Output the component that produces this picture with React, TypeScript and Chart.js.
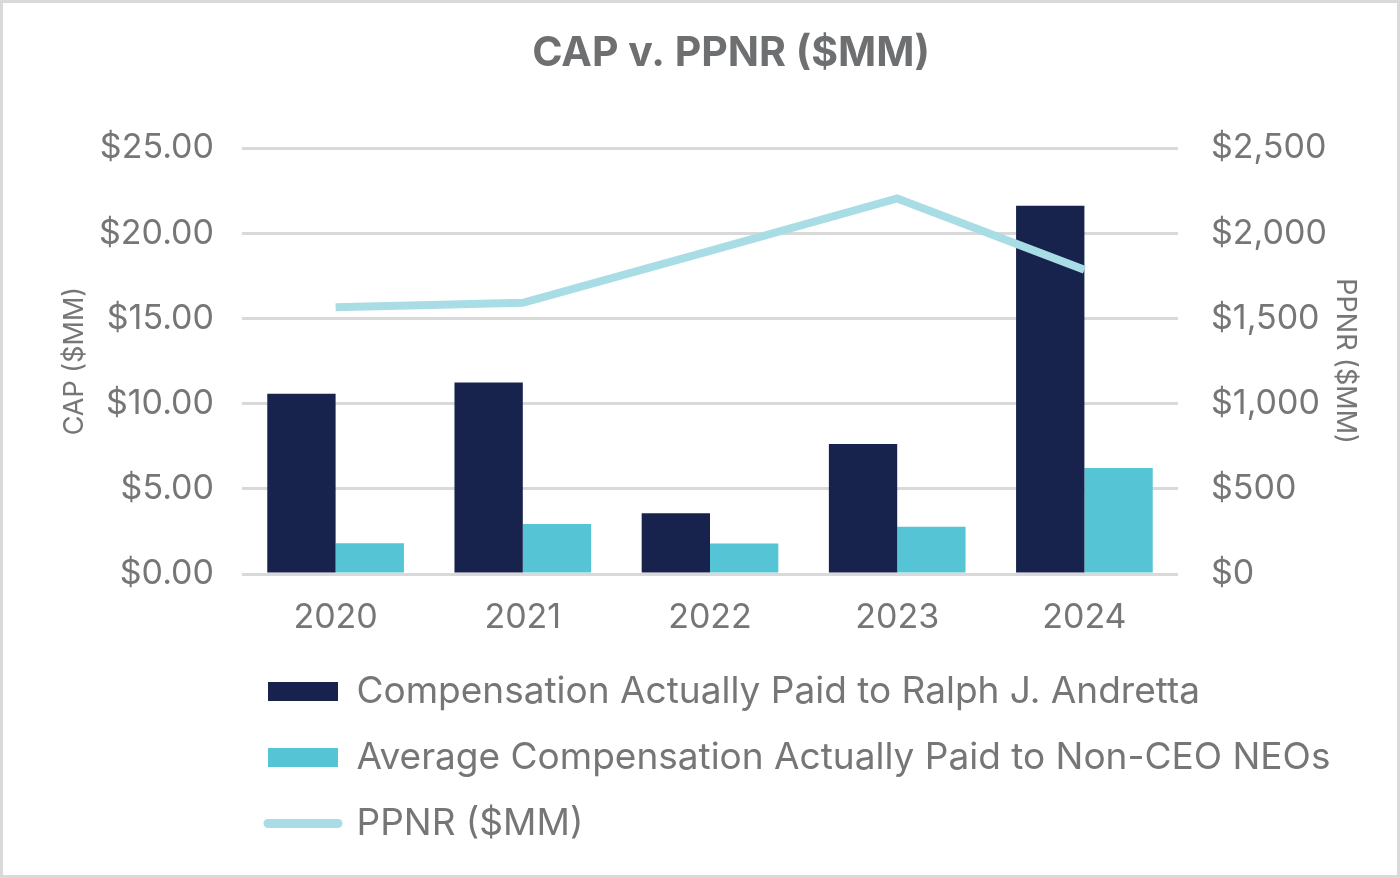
import React, { useEffect, useRef } from 'react';
import { Chart, registerables } from 'chart.js';

Chart.register(...registerables);

// ---- data ----
const years = ['2020', '2021', '2022', '2023', '2024'];
const ceoCap = [10.59, 11.24, 3.57, 7.64, 21.62];
const neoCap = [1.81, 2.93, 1.79, 2.78, 6.22];
const ppnr = [1566, 1592, 1897, 2205, 1786];
const seriesLabels = [
  'Compensation Actually Paid to Ralph J. Andretta',
  'Average Compensation Actually Paid to Non-CEO NEOs',
  'PPNR ($MM)',
];
const titleText = 'CAP v. PPNR ($MM)';
const leftAxisTitle = 'CAP ($MM)';
const rightAxisTitle = 'PPNR ($MM)';

const FONT = 'Inter, "Noto Sans", sans-serif';
const TEXT = '#767676';
const GRID = '#d9d9d9';

const framePlugin = {
  id: 'frame',
  beforeDraw(chart: any) {
    const { ctx, width, height } = chart;
    ctx.save();
    ctx.fillStyle = '#ffffff';
    ctx.fillRect(0, 0, width, height);
    ctx.strokeStyle = '#d9d9d9';
    ctx.lineWidth = 3;
    ctx.strokeRect(1.5, 1.5, width - 3, height - 3);
    ctx.restore();
  },
};

// nudges the title and the legend block sideways to match the reference layout
const blockShift = {
  id: 'blockShift',
  afterLayout(chart: any) {
    const lg = chart.legend;
    if (lg) {
      lg.left -= 3;
      lg.right = chart.width;
    }
    const tb = chart.titleBlock;
    if (tb) {
      tb.left += 31;
      tb.right += 31;
    }
  },
};

export default function App() {
  const ref = useRef<HTMLCanvasElement | null>(null);

  useEffect(() => {
    if (!ref.current) return;
    const chart = new Chart(ref.current, {
      type: 'bar',
      data: {
        labels: years,
        datasets: [
          {
            type: 'bar',
            label: seriesLabels[0],
            data: ceoCap,
            backgroundColor: '#17234d',
            borderWidth: 0,
            yAxisID: 'y',
            order: 1,
            categoryPercentage: 0.73,
            barPercentage: 1.0,
          },
          {
            type: 'bar',
            label: seriesLabels[1],
            data: neoCap,
            backgroundColor: '#55c4d5',
            borderWidth: 0,
            yAxisID: 'y',
            order: 1,
            categoryPercentage: 0.73,
            barPercentage: 1.0,
          },
          {
            type: 'line',
            label: seriesLabels[2],
            data: ppnr,
            borderColor: '#a9dde6',
            backgroundColor: '#a9dde6',
            borderWidth: 8,
            borderCapStyle: 'butt',
            borderJoinStyle: 'miter',
            pointRadius: 0,
            pointHoverRadius: 0,
            tension: 0,
            yAxisID: 'y1',
            order: 0,
          } as any,
        ],
      },
      options: {
        animation: false,
        responsive: false,
        layout: { padding: { left: 0, right: 0, top: 0, bottom: 26 } },
        plugins: {
          title: {
            display: true,
            text: titleText,
            color: '#6e6f71',
            font: { family: FONT, size: 41, weight: 'bold' },
            padding: { top: 29, bottom: 70 },
          },
          legend: {
            display: true,
            position: 'bottom',
            align: 'start',
            fullSize: false,
            labels: {
              color: TEXT,
              font: { family: FONT, size: 37 },
              usePointStyle: true,
              pointStyleWidth: 70,
              boxHeight: 19,
              padding: 29,
              sort: (a: any, b: any) => a.datasetIndex - b.datasetIndex,
              generateLabels: (chart: any) => {
                const items = (Chart.defaults.plugins.legend.labels as any).generateLabels(chart);
                return items.map((it: any) => {
                  const ds = chart.data.datasets[it.datasetIndex];
                  if (ds.type === 'line') {
                    return { ...it, pointStyle: 'line', lineWidth: 9, lineCap: 'round', strokeStyle: ds.borderColor, fillStyle: ds.borderColor };
                  }
                  return { ...it, pointStyle: 'rect', lineWidth: 0, fillStyle: ds.backgroundColor, strokeStyle: ds.backgroundColor };
                });
              },
            },
          },
          tooltip: { enabled: false },
        },
        scales: {
          x: {
            offset: true,
            grid: { display: false, drawTicks: false },
            border: { display: false },
            ticks: {
              color: TEXT,
              font: { family: FONT, size: 34 },
              padding: 23,
            },
            afterFit: (s: any) => {
              s.height = 70;
            },
          },
          y: {
            position: 'left',
            min: 0,
            max: 25,
            grid: { color: GRID, lineWidth: 3, drawTicks: false },
            border: { display: false },
            ticks: {
              stepSize: 5,
              color: TEXT,
              font: { family: FONT, size: 34 },
              padding: 28,
              callback: (v: any) => '$' + Number(v).toFixed(2),
            },
            title: {
              display: true,
              text: leftAxisTitle,
              color: TEXT,
              font: { family: FONT, size: 27 },
              padding: { top: 59, bottom: 0 },
            },
            afterFit: (s: any) => {
              s.width = 242;
            },
          },
          y1: {
            position: 'right',
            min: 0,
            max: 2500,
            grid: { display: false, drawTicks: false },
            border: { display: false },
            ticks: {
              stepSize: 500,
              color: TEXT,
              font: { family: FONT, size: 34 },
              padding: 33,
              callback: (v: any) => '$' + Number(v).toLocaleString('en-US'),
            },
            title: {
              display: true,
              text: rightAxisTitle,
              color: TEXT,
              font: { family: FONT, size: 27 },
              padding: { top: 39, bottom: 0 },
            },
            afterFit: (s: any) => {
              s.width = 222;
            },
          },
        },
      } as any,
      plugins: [framePlugin, blockShift],
    });
    return () => chart.destroy();
  }, []);

  return (
    <div style={{ position: 'absolute', left: 0, top: 0, width: 1400, height: 878 }}>
      <canvas ref={ref} width={1400} height={878} style={{ display: 'block', width: 1400, height: 878 }} />
    </div>
  );
}
